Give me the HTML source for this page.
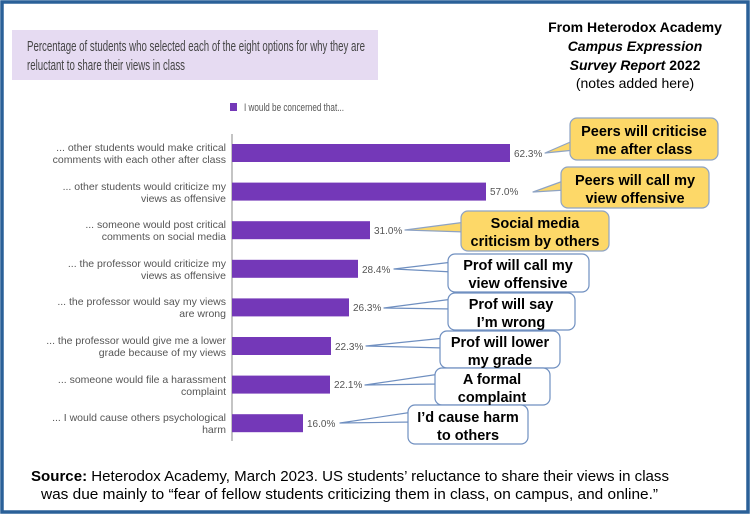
<!DOCTYPE html>
<html><head><meta charset="utf-8"><style>
html,body{margin:0;padding:0;background:#fff}
svg{display:block}
</style></head><body>
<svg width="751" height="515" viewBox="0 0 751 515" xmlns="http://www.w3.org/2000/svg" font-family="Liberation Sans, sans-serif">
<rect x="2" y="2" width="746" height="510" fill="#fff" stroke="#2a6098" stroke-width="3.5"/>
<rect x="12" y="30" width="366" height="50" fill="#e6dbf2"/>
<text x="27" y="51" font-size="15" fill="#444" textLength="338" lengthAdjust="spacingAndGlyphs">Percentage of students who selected each of the eight options for why they are</text>
<text x="27" y="70" font-size="15" fill="#444" textLength="158" lengthAdjust="spacingAndGlyphs">reluctant to share their views in class</text>
<g font-size="14" fill="#000" text-anchor="middle">
<text x="635" y="32" font-weight="bold">From Heterodox Academy</text>
<text x="635" y="51" font-weight="bold" font-style="italic">Campus Expression</text>
<text x="635" y="70"><tspan font-weight="bold" font-style="italic">Survey Report</tspan><tspan font-weight="bold"> 2022</tspan></text>
<text x="635" y="88">(notes added here)</text>
</g>
<rect x="230" y="103" width="7" height="8" fill="#7438b8"/>
<text x="244" y="111" font-size="11" fill="#555" textLength="100" lengthAdjust="spacingAndGlyphs">I would be concerned that...</text>
<line x1="232" y1="134" x2="232" y2="441" stroke="#888" stroke-width="1"/>
<g fill="#7438b8">
<rect x="232" y="144" width="278" height="18"/>
<rect x="232" y="182.6" width="254" height="18"/>
<rect x="232" y="221.2" width="138" height="18"/>
<rect x="232" y="259.8" width="126" height="18"/>
<rect x="232" y="298.4" width="117" height="18"/>
<rect x="232" y="337" width="99" height="18"/>
<rect x="232" y="375.6" width="98" height="18"/>
<rect x="232" y="414.2" width="71" height="18"/>
</g>
<g font-size="10.5" fill="#555" text-anchor="end">
<text x="226" y="151">... other students would make critical</text><text x="226" y="163">comments with each other after class</text>
<text x="226" y="190">... other students would criticize my</text><text x="226" y="202">views as offensive</text>
<text x="226" y="228">... someone would post critical</text><text x="226" y="240">comments on social media</text>
<text x="226" y="267">... the professor would criticize my</text><text x="226" y="279">views as offensive</text>
<text x="226" y="305">... the professor would say my views</text><text x="226" y="317">are wrong</text>
<text x="226" y="344">... the professor would give me a lower</text><text x="226" y="356">grade because of my views</text>
<text x="226" y="383">... someone would file a harassment</text><text x="226" y="395">complaint</text>
<text x="226" y="421">... I would cause others psychological</text><text x="226" y="433">harm</text>
</g>
<g font-size="10" fill="#555">
<text x="514" y="157">62.3%</text>
<text x="490" y="195">57.0%</text>
<text x="374" y="234">31.0%</text>
<text x="362" y="273">28.4%</text>
<text x="353" y="311">26.3%</text>
<text x="335" y="350">22.3%</text>
<text x="334" y="388">22.1%</text>
<text x="307" y="427">16.0%</text>
</g>
<g stroke="#8ea3c4" stroke-width="1.2" stroke-linejoin="round">
<polygon points="545,153 575,140 575,150" fill="#fdd868"/>
<rect x="570" y="118" width="148" height="42" rx="7" fill="#fdd868"/>
<polygon points="533,192 566,180 566,190" fill="#fdd868"/>
<rect x="561" y="167" width="148" height="41" rx="7" fill="#fdd868"/>
<polygon points="405,230 466,222 466,232" fill="#fdd868"/>
<rect x="461" y="211" width="148" height="40" rx="7" fill="#fdd868"/>
</g>
<g stroke="#6f8fc0" stroke-width="1.2" stroke-linejoin="round" fill="#fff">
<polygon points="394,269 453,262 453,272"/>
<rect x="448" y="254" width="141" height="38" rx="7"/>
<polygon points="384,308 453,299 453,309"/>
<rect x="448" y="293" width="127" height="37" rx="7"/>
<polygon points="366,346 445,338 445,348"/>
<rect x="440" y="331" width="120" height="37" rx="7"/>
<polygon points="365,385 440,374 440,384"/>
<rect x="435" y="368" width="115" height="37" rx="7"/>
<polygon points="340,423 413,412 413,422"/>
<rect x="408" y="405" width="120" height="39" rx="7"/>
</g>
<g font-size="14.5" font-weight="bold" fill="#000" text-anchor="middle">
<text x="644" y="136">Peers will criticise</text><text x="644" y="154">me after class</text>
<text x="635" y="185">Peers will call my</text><text x="635" y="203">view offensive</text>
<text x="535" y="228">Social media</text><text x="535" y="246">criticism by others</text>
<text x="518" y="270">Prof will call my</text><text x="518" y="288">view offensive</text>
<text x="511" y="309">Prof will say</text><text x="511" y="327">I’m wrong</text>
<text x="500" y="347">Prof will lower</text><text x="500" y="365">my grade</text>
<text x="492" y="384">A formal</text><text x="492" y="402">complaint</text>
<text x="468" y="422">I’d cause harm</text><text x="468" y="440">to others</text>
</g>
<text x="31" y="481" font-size="14.5" fill="#000" textLength="638" lengthAdjust="spacingAndGlyphs"><tspan font-weight="bold">Source:</tspan> Heterodox Academy, March 2023. US students’ reluctance to share their views in class</text>
<text x="41" y="499" font-size="14.5" fill="#000" textLength="617" lengthAdjust="spacingAndGlyphs">was due mainly to “fear of fellow students criticizing them in class, on campus, and online.”</text>
</svg>
</body></html>
